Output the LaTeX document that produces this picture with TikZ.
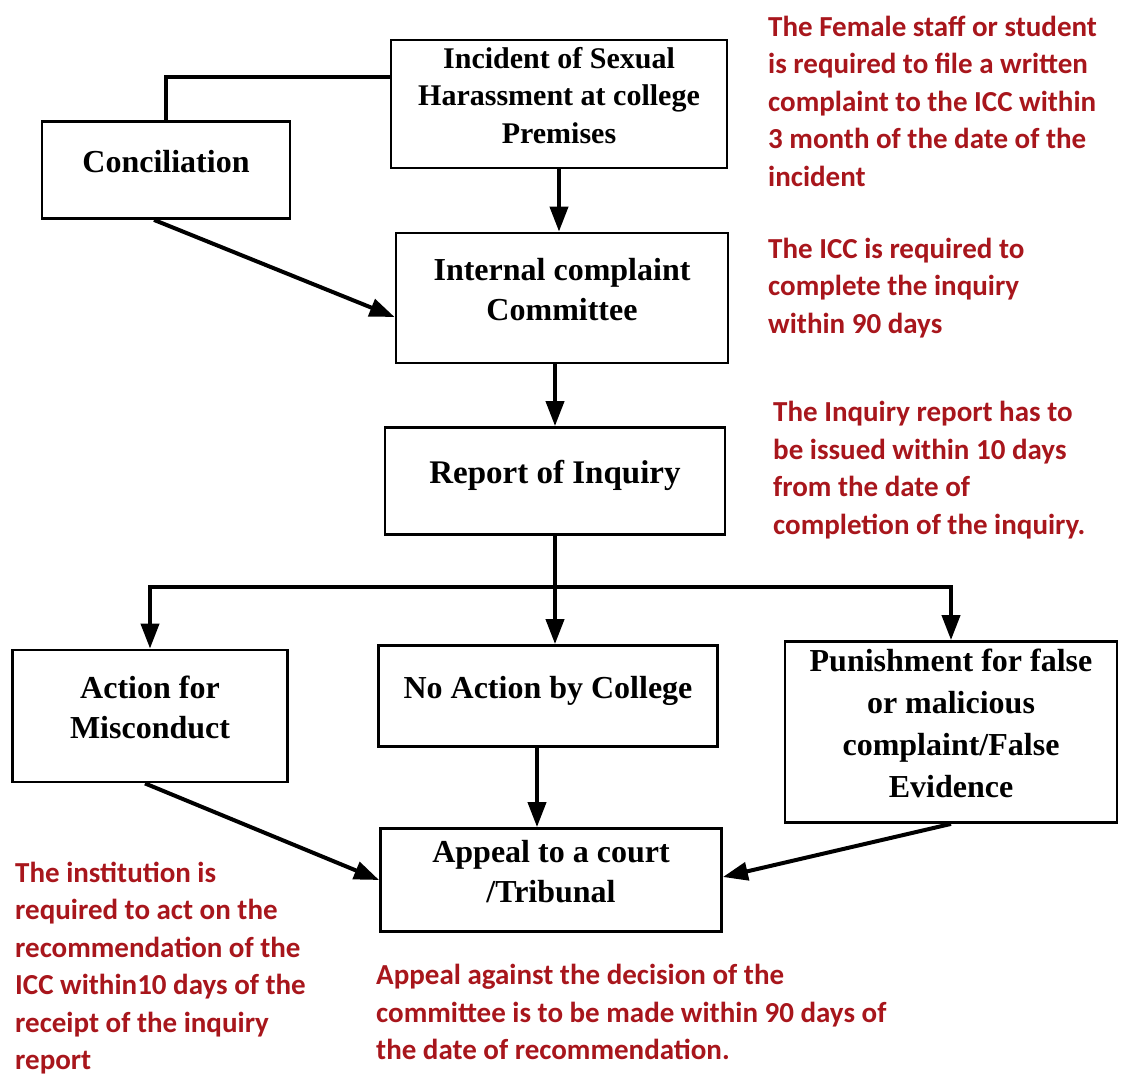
\documentclass[tikz,border=0pt]{standalone}
\usepackage{fontspec}
\setmainfont{Liberation Serif}
\newfontfamily\notefont{Carlito}
\usepackage{xcolor}
\usetikzlibrary{positioning,arrows.meta}
\definecolor{notered}{RGB}{168,22,28}

\begin{document}
\begin{tikzpicture}[x=1pt,y=-1pt,
        box/.style={rectangle,draw=black,line width=2.8pt,align=center,
          font=\fontsize{32}{40}\selectfont\bfseries,inner sep=0pt,text depth=18pt},
        note/.style={anchor=west,align=left,inner sep=0pt,text=notered,
          font=\notefont\fontsize{29}{37.5}\selectfont\bfseries},
        link/.style={line width=4pt},
        >={Triangle[length=25pt,width=18pt]}]
      \useasboundingbox (0,0) rectangle (1121,1081);
      \node at (559,104) [box,minimum width=336pt,minimum height=128pt,
        font=\fontsize{30}{37.5}\selectfont\bfseries] (incident)
        {Incident of Sexual\\Harassment at college\\Premises};
      \node at (166,170) [box,minimum width=248pt,minimum height=97pt] (concil) {Conciliation};
      \node at (562,298) [box,minimum width=332pt,minimum height=130pt] (icc)
        {Internal complaint\\Committee};
      \node at (555,481) [box,minimum width=340pt,minimum height=107pt,
        font=\fontsize{33}{40}\selectfont\bfseries] (report) {Report of Inquiry};
      \node at (150,716) [box,minimum width=275pt,minimum height=132pt] (action)
        {Action for\\Misconduct};
      \node at (548,696) [box,minimum width=339pt,minimum height=101pt] (noact)
        {No Action by College};
      \node at (951,732) [box,minimum width=332pt,minimum height=181pt,
        font=\fontsize{32}{42}\selectfont\bfseries] (punish)
        {Punishment for false\\or malicious\\complaint/False\\Evidence};
      \node at (551,880) [box,minimum width=341pt,minimum height=103pt] (appeal)
        {Appeal to a court\\/Tribunal};
      \coordinate (split) at (552,587);

      \draw[link] ([yshift=27pt]incident.west) -| (concil.north);
      \draw[link,->] ([xshift=-12pt]concil.south) -- ([yshift=-19pt]icc.west);
      \draw[link,->] (incident.south) -- (incident.south |- icc.north);
      \draw[link,->] (report.north |- icc.south) -- (report.north);
      \draw[link,->] (report.south) -- (report.south |- noact.north);
      \draw[link,->] (split) -| (action.north);
      \draw[link,->] (split) -| (punish.north);
      \draw[link,->] ([xshift=-11pt]noact.south) -- ([xshift=-11pt]noact.south |- appeal.north);
      \draw[link,->] ([xshift=-5pt]action.south) -- (appeal.west);
      \draw[link,->] (punish.south) -- ([yshift=3pt]appeal.east);

      \node at (768,101) [note] (n1) {The Female staff or student\\is required to file a written\\complaint to the ICC within\\3 month of the date of the\\incident};
      \node at (768,288) [note] (n2) {The ICC is required to\\complete the inquiry\\within 90 days};
      \node at (773,470) [note] (n3) {The Inquiry report has to\\be issued within 10 days\\from the date of\\completion of the inquiry.};
      \node at (15,968) [note] (n4) {The institution is\\required to act on the\\recommendation of the\\ICC within10 days of the\\receipt of the inquiry\\report};
      \node at (376,1012) [note] (n5) {Appeal against the decision of the\\committee is to be made within 90 days of\\the date of recommendation.};
\end{tikzpicture}
\end{document}
